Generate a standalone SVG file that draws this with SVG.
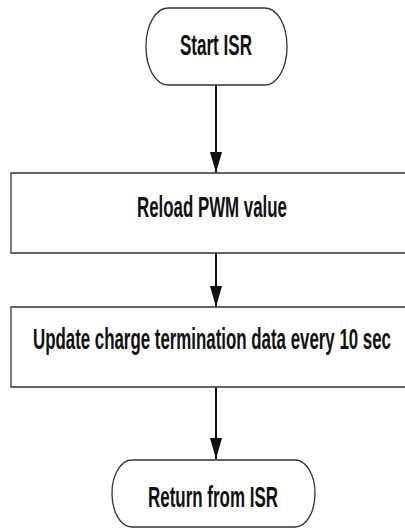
<svg xmlns="http://www.w3.org/2000/svg" width="405" height="529" viewBox="0 0 405 529">
<defs>
<style>
.shape{fill:#fff;stroke:#333;stroke-width:1.3}
.lbl{font-family:"Liberation Sans",Arial,sans-serif;font-weight:bold;font-size:29px;fill:#111}
.conn{stroke:#111;stroke-width:2;fill:none}
</style>
<marker id="ah" markerUnits="userSpaceOnUse" markerWidth="22" markerHeight="12" refX="21" refY="6" orient="auto" viewBox="0 0 22 12">
<path d="M0,0 L21,6 L0,12 Z" fill="#111"/>
</marker>
</defs>
<rect width="405" height="529" fill="#fff"/>
<g id="connectors">
<line class="conn" x1="216" y1="85" x2="216" y2="173" marker-end="url(#ah)"/>
<line class="conn" x1="216" y1="253" x2="216" y2="307" marker-end="url(#ah)"/>
<line class="conn" x1="216" y1="387" x2="216" y2="459" marker-end="url(#ah)"/>
</g>
<g id="start">
<rect class="shape" x="146" y="8" width="141" height="77" rx="22" ry="38"/>
<text class="lbl" transform="scale(0.58,1)" x="310.3" y="55" textLength="124.1" lengthAdjust="spacingAndGlyphs">Start ISR</text>
</g>
<g id="reload">
<path class="shape" d="M405,173 H11 V253 H405"/>
<text class="lbl" transform="scale(0.58,1)" x="236.2" y="217" textLength="258.6" lengthAdjust="spacingAndGlyphs">Reload PWM value</text>
</g>
<g id="update">
<path class="shape" d="M405,307 H11 V387 H405"/>
<text class="lbl" transform="scale(0.58,1)" x="56.9" y="349" textLength="617.2" lengthAdjust="spacingAndGlyphs">Update charge termination data every 10 sec</text>
</g>
<g id="return">
<rect class="shape" x="112" y="460" width="203" height="67" rx="20" ry="33"/>
<text class="lbl" transform="scale(0.58,1)" x="255.2" y="507" textLength="224.1" lengthAdjust="spacingAndGlyphs">Return from ISR</text>
</g>
</svg>
